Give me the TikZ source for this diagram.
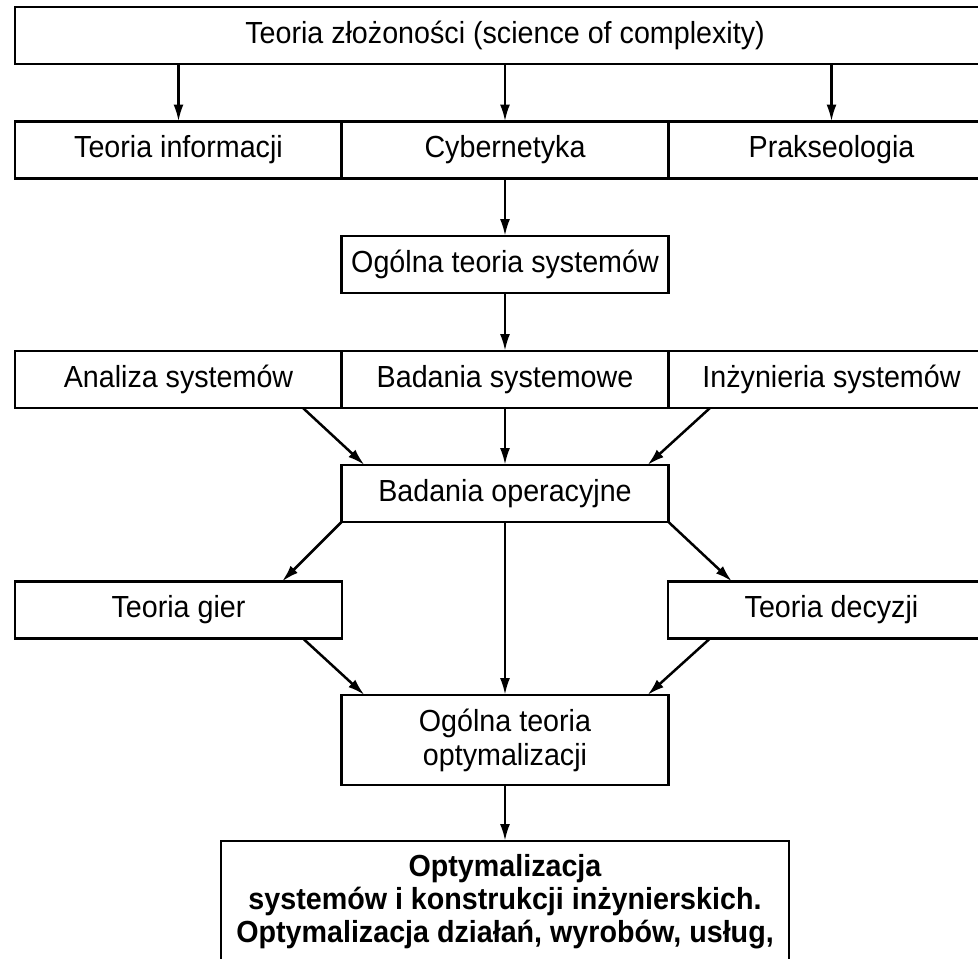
\documentclass[tikz,border=0pt]{standalone}
\usepackage{fontspec}
\setmainfont{Liberation Sans}[FakeStretch=0.94]
\usetikzlibrary{arrows.meta}
\begin{document}
\begin{tikzpicture}[x=1pt,y=-1pt,
  box/.style={draw, line width=2.7pt, minimum width=327pt, minimum height=57pt,
    inner sep=0pt, outer sep=0pt, font=\fontsize{30.5}{34}\selectfont, align=center},
  arr/.style={line width=2.5pt, -{Latex[length=17pt,width=10pt]}}]
\useasboundingbox (0,0) rectangle (978,959);
\clip (0,0) rectangle (978,959);
% row 1
\node[box, minimum width=980pt] (tz) at (505,35.5) {Teoria złożoności (science of complexity)};
% row 2
\node[box] (ti) at (178.5,150) {Teoria informacji};
\node[box] (cy) at (505,150) {Cybernetyka};
\node[box] (pr) at (831.5,150) {Prakseologia};
% row 3
\node[box] (ots) at (505,264.5) {Ogólna teoria systemów};
% row 4
\node[box] (an) at (178.5,379.5) {Analiza systemów};
\node[box] (bs) at (505,379.5) {Badania systemowe};
\node[box] (is) at (831.5,379.5) {Inżynieria systemów};
% row 5
\node[box] (bo) at (505,493.5) {Badania operacyjne};
% row 6
\node[box] (tg) at (178.5,610) {Teoria gier};
\node[box] (td) at (831.5,610) {Teoria decyzji};
% row 7
\node[box, minimum height=90pt] (oto) at (505,740) {Ogólna teoria\\optymalizacji};
% row 8
\node[box, anchor=north, minimum width=568pt, inner ysep=13pt, text depth=80pt,
  font=\bfseries\fontsize{30.5}{33}\selectfont] (opt) at (505,841)
  {Optymalizacja\\systemów i konstrukcji inżynierskich.\\Optymalizacja działań, wyrobów, usług,};
% arrows
\draw[arr] (tz.south -| ti.center) -- (ti.north);
\draw[arr] (tz.south -| cy.center) -- (cy.north);
\draw[arr] (tz.south -| pr.center) -- (pr.north);
\draw[arr] (cy.south) -- (ots.north);
\draw[arr] (ots.south) -- (bs.north);
\draw[arr] ([xshift=-39pt]an.south east) -- ([xshift=23pt]bo.north west);
\draw[arr] (bs.south) -- (bo.north);
\draw[arr] ([xshift=42pt]is.south west) -- ([xshift=-21pt]bo.north east);
\draw[arr] (bo.south west) -- ([xshift=-60pt]tg.north east);
\draw[arr] (bo.south) -- (oto.north);
\draw[arr] (bo.south east) -- ([xshift=64pt]td.north west);
\draw[arr] ([xshift=-39pt]tg.south east) -- ([xshift=23pt]oto.north west);
\draw[arr] ([xshift=42pt]td.south west) -- ([xshift=-21pt]oto.north east);
\draw[arr] (oto.south) -- (opt.north);
\end{tikzpicture}
\end{document}
